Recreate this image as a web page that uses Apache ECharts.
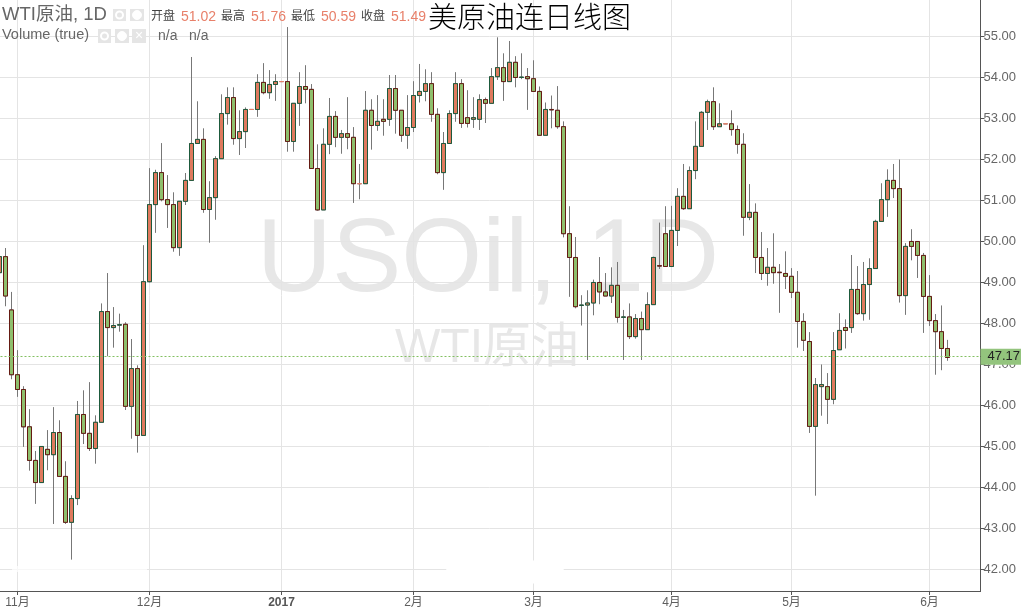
<!DOCTYPE html>
<html><head><meta charset="utf-8">
<style>html,body{margin:0;padding:0;background:#fff}#c{width:1021px;height:611px}</style>
<script src="https://cdn.jsdelivr.net/npm/echarts@6/dist/echarts.min.js"></script>
</head><body><div id="c"></div>
<script>
const opens = [49.24,49.63,48.33,46.75,46.39,45.48,44.66,44.12,44.93,44.80,45.34,44.27,43.15,43.73,45.78,45.32,44.95,45.59,48.29,47.90,47.96,47.98,45.98,46.90,45.27,49.02,50.90,51.68,51.02,50.90,49.85,50.98,51.49,52.39,52.49,50.78,51.07,52.02,53.12,53.51,52.51,52.68,53.22,53.22,53.88,53.63,53.83,53.90,53.90,52.44,53.37,53.78,53.71,51.78,50.77,52.37,53.05,52.54,52.63,52.54,51.41,51.41,53.20,52.83,52.98,52.98,53.73,53.20,52.59,52.78,53.56,53.66,53.85,53.10,51.68,52.39,53.12,53.85,53.02,52.98,52.98,53.46,53.37,54.02,54.24,53.90,54.37,54.00,54.02,53.97,53.66,52.59,53.22,53.20,52.80,50.19,49.61,48.44,48.45,48.50,49.00,48.77,48.67,48.93,48.15,48.16,47.68,48.12,47.85,48.46,49.41,50.19,49.39,50.27,51.10,50.80,51.73,52.32,53.15,53.41,52.80,52.87,52.87,52.73,52.37,50.59,50.71,49.61,49.22,49.37,49.25,49.22,49.15,48.76,48.05,47.56,45.49,46.46,46.46,46.15,47.36,47.90,47.90,48.83,48.24,48.95,49.34,50.49,51.02,51.49,51.29,48.68,50.00,50.00,49.66,48.66,48.07,47.80,47.39];
const closes = [49.63,48.67,46.75,46.39,45.48,44.66,44.12,45.00,44.80,45.34,44.27,43.15,43.73,45.78,45.32,44.95,45.59,48.29,47.90,47.95,47.97,45.98,46.90,45.27,49.02,50.90,51.68,51.02,50.90,49.85,50.98,51.49,52.39,52.49,50.78,51.07,52.02,53.12,53.51,52.51,52.68,53.22,53.22,53.88,53.63,53.83,53.90,53.90,52.44,53.37,53.78,53.71,51.78,50.77,52.37,53.05,52.54,52.63,52.54,51.41,51.41,53.20,52.83,52.93,52.93,53.73,53.20,52.59,52.78,53.56,53.66,53.85,53.10,51.68,52.39,53.12,53.85,52.88,52.88,53.02,53.46,53.37,54.02,54.24,53.90,54.37,54.00,54.01,53.97,53.66,52.59,53.22,53.21,52.80,50.19,49.61,48.41,48.45,48.50,49.00,48.77,48.67,48.93,48.15,48.16,47.68,48.12,47.85,48.46,49.61,49.40,49.39,50.27,51.10,50.80,51.73,52.32,53.15,53.41,52.80,52.87,52.87,52.73,52.37,50.59,50.71,49.61,49.22,49.37,49.24,49.24,49.15,48.76,48.05,47.59,45.49,46.51,46.51,46.15,47.34,47.83,47.83,48.83,48.24,48.95,49.34,50.49,51.02,51.49,51.29,48.68,49.88,49.88,49.66,48.66,48.07,47.80,47.39,47.17];
const lows = [49.24,48.42,46.64,46.21,44.99,44.41,43.60,44.12,44.42,43.11,44.27,43.11,42.24,43.57,45.06,44.89,44.58,45.59,47.20,47.41,47.80,45.89,45.19,44.85,45.27,49.00,50.21,50.98,50.33,49.75,49.65,50.89,51.49,52.39,50.70,49.97,50.53,52.02,52.85,52.36,52.11,52.28,53.22,53.04,53.59,53.48,53.43,53.90,52.19,52.19,52.82,53.37,51.78,50.75,50.77,52.13,52.30,52.14,52.25,50.94,51.03,51.41,52.24,52.70,52.58,52.82,52.63,52.43,52.26,52.67,53.39,53.42,52.92,51.64,51.26,52.39,52.92,52.77,52.78,52.77,52.72,52.89,53.37,53.94,53.43,53.90,53.76,53.96,53.21,53.66,52.59,52.59,52.76,52.75,50.10,48.65,48.37,47.95,47.11,48.20,48.47,48.67,48.50,48.02,47.11,47.62,47.63,47.11,47.85,48.46,49.33,49.39,49.39,49.89,50.77,50.80,51.52,52.32,52.72,52.72,52.80,52.87,52.58,52.14,50.14,50.52,49.23,49.06,48.92,48.97,48.26,48.84,48.62,47.41,47.33,45.33,43.80,45.75,45.55,46.03,47.36,47.39,47.77,48.21,48.07,48.09,49.34,50.49,50.60,51.06,48.51,48.21,49.54,49.11,47.77,47.94,46.75,46.86,47.09];
const highs = [49.63,49.84,48.77,47.35,46.47,45.91,44.89,45.00,45.40,45.96,45.64,44.64,43.81,46.11,46.37,46.57,45.76,48.49,49.23,48.40,48.24,48.03,47.62,46.98,49.91,51.79,51.75,52.40,51.62,51.20,50.98,51.67,54.50,53.42,52.76,51.47,52.08,53.59,53.76,53.76,53.20,53.27,53.22,54.08,54.35,54.18,54.08,53.90,55.23,53.37,54.13,54.30,53.84,52.37,52.76,53.50,53.18,52.72,53.52,52.79,51.89,53.67,53.47,53.57,53.47,54.06,54.06,53.20,53.57,53.91,54.33,54.20,54.13,53.25,52.67,53.20,54.13,53.96,53.69,53.52,53.59,53.51,54.23,54.98,54.59,54.89,54.52,54.59,54.23,54.42,53.78,53.39,53.56,53.79,52.93,50.86,50.11,48.69,48.81,49.07,49.62,49.23,49.37,49.50,48.33,48.49,48.23,48.29,48.76,49.63,50.46,50.86,50.87,51.30,51.89,51.83,52.93,53.18,53.46,53.76,53.37,52.87,53.20,52.83,52.64,51.40,50.93,50.23,49.84,50.20,49.45,49.76,49.35,49.28,48.25,47.79,46.67,47.00,46.79,47.79,48.25,48.10,49.67,49.40,49.50,49.59,50.53,51.42,51.76,51.89,52.00,49.96,50.30,50.00,49.72,49.18,48.23,48.44,47.60];
const monthIndex = [3,25,47,69,89,112,132,155];
const monthLabels = ['11月','12月','2017','2月','3月','4月','5月','6月'];
const priceTicks = [42,43,44,45,46,47,48,49,50,51,52,53,54,55];
const lastPrice = 47.17;
const lastPriceLine = 47.19;
const emptyBands = 5;

const categories = opens.map((_, i) => String(i));
for (let i = 0; i < emptyBands; i++) categories.push('');
const wickData = opens.map((o, i) => [o, closes[i], lows[i], highs[i]]);
const bodyData = opens.map((o, i) => [o, closes[i], Math.min(o, closes[i]), Math.max(o, closes[i])]);
const isMonth = i => monthIndex.indexOf(i) >= 0;

const SANS = '"Liberation Sans",Arial,"Noto Sans CJK SC",sans-serif';
const WM = '#e7e7e7', UP = '#df7a5e', DOWN = '#8fbf6d', UPB = '#1d5a3c', DOWNB = '#651a12', SALMON = '#e8806a', GREY = '#666';

function t(text, x, y, size, fill, extra) {
  return Object.assign({type:'text', z:5, style:{text, x, y, fontSize:size, fill, fontFamily:SANS, textVerticalAlign:'middle'}}, extra||{});
}
function box(x, y, w, h, inner) {
  const out = [{type:'rect', z:5, shape:{x, y, width:w, height:h}, style:{fill:'#e5e5e5'}}];
  if (inner === 'x') out.push(t('×', x + w/2 - 4, y + h/2, 14, '#fff'));
  else out.push({type:'circle', z:6, shape:{cx:x + w/2, cy:y + h/2, r:inner === 'eye' ? 3.5 : 4.5}, style:{fill:inner === 'eye' ? 'none' : '#fff', stroke:'#fff', lineWidth:inner === 'eye' ? 2 : 1}});
  return out;
}

const chart = echarts.init(document.getElementById('c'), null, {renderer:'canvas'});
chart.setOption({
  animation:false,
  backgroundColor:'#fff',
  grid:{left:-3.5, top:0, width:984, height:591, containLabel:false, outerBoundsMode:'none'},
  xAxis:{
    type:'category', data:categories, boundaryGap:true,
    axisLine:{show:false},
    axisTick:{show:true, length:4, alignWithLabel:true, interval:(i)=>isMonth(i), lineStyle:{color:'#555'}},
    axisLabel:{
      show:true, margin:6, interval:(i)=>isMonth(i), color:'#5f5f5f', fontSize:12, fontFamily:SANS,
      formatter:(v,i)=>{const k=monthIndex.indexOf(i); if(k<0) return ''; return monthLabels[k]==='2017'?'{b|2017}':monthLabels[k];},
      rich:{b:{fontWeight:'bold', fontSize:12, color:'#555', fontFamily:SANS}}
    },
    splitLine:{show:true, alignWithLabel:true, interval:(i)=>isMonth(i), lineStyle:{color:'#e4e4e4', width:1}}
  },
  yAxis:{
    type:'value', position:'right', min:41.475, max:55.89, scale:true,
    axisLine:{show:false},
    axisTick:{show:true, length:4, inside:false, lineStyle:{color:'#555'}, customValues:priceTicks},
    axisLabel:{show:true, margin:3, color:GREY, fontSize:13, fontFamily:SANS, customValues:priceTicks, formatter:v=>v.toFixed(2), padding:[0,0,4,0]},
    splitLine:{show:true, lineStyle:{color:'#e4e4e4', width:1}}
  },
  series:[
    {type:'candlestick', name:'wick', data:wickData, barWidth:5, z:2,
     itemStyle:{color:'#777', color0:'#777', borderColor:'#777', borderColor0:'#777', borderColorDoji:'#777', borderWidth:1}},
    {type:'candlestick', name:'WTI原油', data:bodyData, barWidth:5, z:3,
     itemStyle:{color:UP, color0:DOWN, borderColor:UPB, borderColor0:DOWNB, borderColorDoji:SALMON, borderWidth:1},
     markLine:{silent:true, symbol:'none', animation:false, z:4,
       lineStyle:{color:'#83c061', type:[2,2], width:1},
       label:{show:true, position:'end', distance:0, formatter:()=>lastPrice.toFixed(2), color:'#222', fontSize:13, fontFamily:SANS,
              backgroundColor:'#93c47d', width:34, height:16, padding:[0,0,0,7], align:'left', verticalAlign:'middle', lineHeight:16},
       data:[{yAxis:lastPriceLine}]}}
  ],
  graphic:{elements:[
    {type:'text', z:-1, style:{text:'USOil, 1D', x:488, y:262, fontSize:104, fill:WM, fontFamily:SANS, textAlign:'center', textVerticalAlign:'middle'}},
    {type:'text', z:-1, style:{text:'WTI原油', x:487, y:349, fontSize:48, fill:WM, fontFamily:SANS, textAlign:'center', textVerticalAlign:'middle'}},
    {type:'rect', z:4, shape:{x:0, y:591, width:980.5, height:1}, style:{fill:'#555'}},
    {type:'rect', z:4, shape:{x:980, y:0, width:1, height:592}, style:{fill:'#555'}},
    {type:'rect', z:4, shape:{x:980, y:356, width:5, height:1}, style:{fill:'#222'}},
    {type:'rect', z:1, shape:{x:12, y:566, width:135, height:6}, style:{fill:'rgba(255,255,255,0.7)'}},
    {type:'ellipse', z:1, shape:{cx:505, cy:572, rx:60, ry:13}, style:{fill:'#fff'}},
    t('WTI原油, 1D', 2, 15, 18.5, GREY),
    ...box(113,9,13,12,'eye'), ...box(130,9,14,12,'gear'),
    t('开盘', 151, 17, 12, '#444'), t('51.02', 181, 17, 14, SALMON),
    t('最高', 221, 17, 12, '#444'), t('51.76', 251, 17, 14, SALMON),
    t('最低', 291, 17, 12, '#444'), t('50.59', 321, 17, 14, SALMON),
    t('收盘', 361, 17, 12, '#444'), t('51.49', 391, 17, 14, SALMON),
    t('Volume (true)', 2, 35, 14.5, GREY),
    ...box(98,29,13,14,'eye'), ...box(115,29,14,14,'gear'), ...box(132,29,14,14,'x'),
    t('n/a', 158, 36, 14, GREY), t('n/a', 189, 36, 14, GREY),
    {type:'text', z:7, style:{text:'美原油连日线图', x:428, y:17, fontSize:29, fill:'#000', fontFamily:'"Noto Sans CJK SC",sans-serif', fontWeight:300, textVerticalAlign:'middle'}}
  ]}
});
</script></body></html>
